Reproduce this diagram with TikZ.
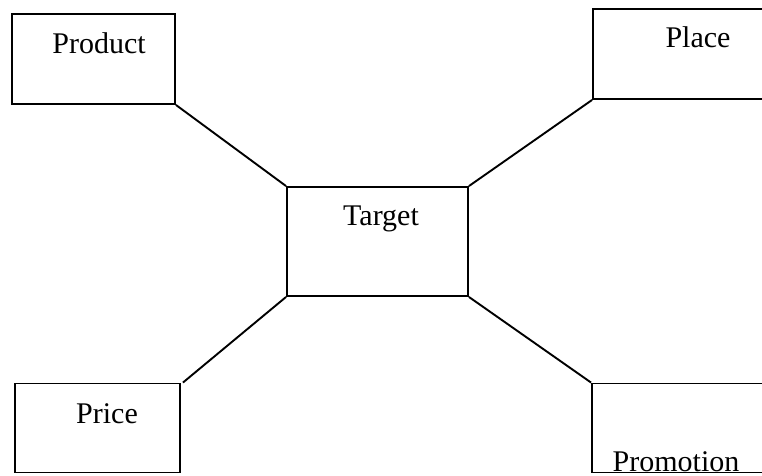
\documentclass[tikz,border=0pt]{standalone}
\usepackage{fontspec}
\setmainfont{Liberation Serif}
\begin{document}
\begin{tikzpicture}[x=1pt,y=-1pt,
  box/.style={draw,line width=1.9pt,inner sep=0pt},
  conn/.style={line width=1.9pt},
  lbl/.style={inner sep=0pt,anchor=base,font=\fontsize{30}{35}\selectfont}]
\useasboundingbox (0,0) rectangle (762,475);
\clip (0,0) rectangle (762,475);
% boxes
\node[box,minimum width=163pt,minimum height=90pt] (product) at (93.5,59) {};
\node[box,minimum width=200pt,minimum height=90pt] (place) at (693,54) {};
\node[box,minimum width=181pt,minimum height=109pt] (target) at (377.5,241.5) {};
\node[box,minimum width=165pt,minimum height=89pt] (price) at (97.5,428) {};
\node[box,minimum width=200pt,minimum height=89pt] (promotion) at (692,428) {};
% texts
\node[lbl] (tproduct) at (99,53) {Product};
\node[lbl] (tplace) at (698,47) {Place};
\node[lbl] (ttarget) at (381,225) {Target};
\node[lbl] (tprice) at (107,423) {Price};
\node[lbl] (tpromotion) at (676,471) {Promotion};
% connectors
\draw[conn] (product.south east) -- (target.north west);
\draw[conn] (place.south west) -- (target.north east);
\draw[conn] (target.south west) -- ([xshift=2pt]price.north east);
\draw[conn] (target.south east) -- (promotion.north west);
\end{tikzpicture}
\end{document}
